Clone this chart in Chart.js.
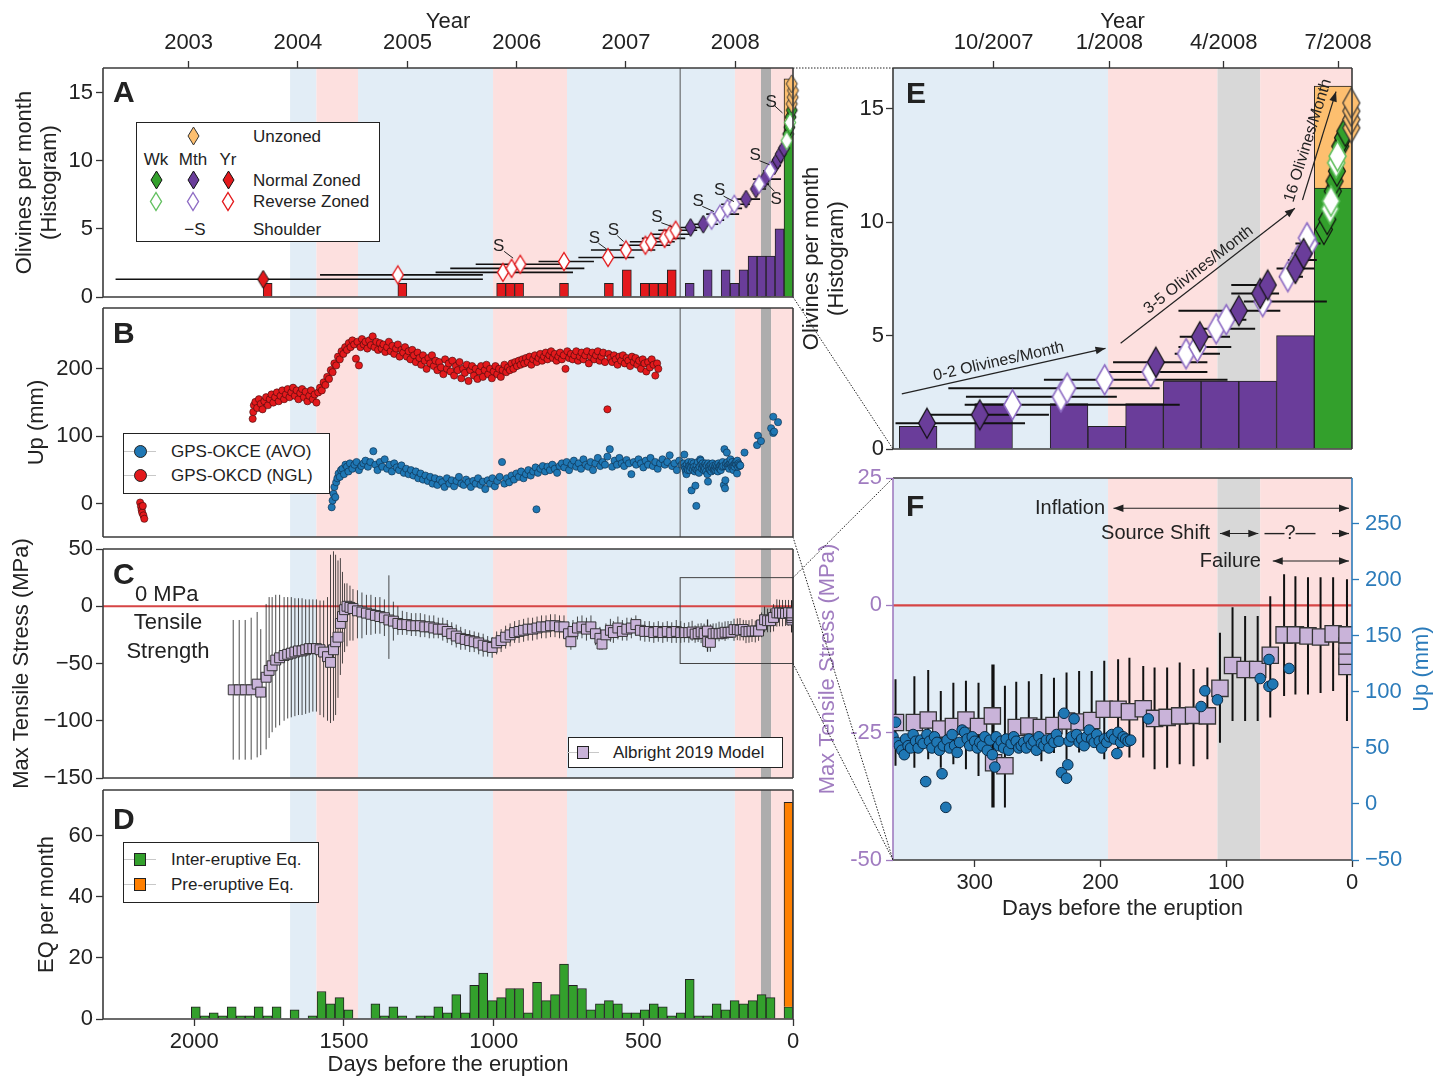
<!DOCTYPE html>
<html>
<head>
<meta charset="utf-8">
<title>Olivines, GPS, stress and seismicity before the eruption</title>
<script src="https://cdn.jsdelivr.net/npm/chart.js@4.4.0/dist/chart.umd.min.js"></script>
<style>
  html, body { margin: 0; padding: 0; background: #fff; }
  #page { position: relative; width: 1437px; height: 1078px; overflow: hidden;
          font-family: 'Liberation Sans', Arial, Helvetica, sans-serif; color: #222; }
  #page canvas { position: absolute; left: 0; top: 0; }
</style>
</head>
<body>
<div id="page">
  <canvas id="chartA" width="1437" height="1078"></canvas>
  <canvas id="chartB" width="1437" height="1078"></canvas>
  <canvas id="chartC" width="1437" height="1078"></canvas>
  <canvas id="chartD" width="1437" height="1078"></canvas>
  <canvas id="chartE" width="1437" height="1078"></canvas>
  <canvas id="chartF" width="1437" height="1078"></canvas>
  <canvas id="links" width="1437" height="1078"></canvas>
</div>
<script>
// ---- data (x = days before the eruption) ----
const yearDays = [2019, 1654, 1288, 923, 558, 193];
const yearLabels = ['2003', '2004', '2005', '2006', '2007', '2008'];
const monthDays = [285, 193, 102, 11];
const monthLabels = ['10/2007', '1/2008', '4/2008', '7/2008'];

// shaded periods [from, to, kind]
const periods = [
  [1680, 1592, 'blue'], [1592, 1453, 'pink'], [1453, 1002, 'blue'], [1002, 755, 'pink'],
  [755, 194, 'blue'], [194, 107, 'pink'], [107, 73, 'grey'], [73, 0, 'pink']
];

// olivine histogram (monthly bins)
const olivYrDays = [1755, 1305, 975, 945, 915, 765, 615, 555, 495, 465, 435, 405];
const olivYrCount = [1, 1, 1, 1, 1, 1, 1, 2, 1, 1, 1, 2];
const olivMthDays = [345, 285, 225, 195, 165, 135, 105, 75, 45];
const olivMthCount = [1, 2, 2, 1, 2, 3, 3, 3, 5];
const olivWkDays = [15];
const olivWkCount = [11.5];
const unzonedRange = [11.5, 16];

// olivine timescales, panel A: [day, y, lo, hi]
const aYrNormal = [[1770, 1.3, 2263, 1036]];
const aYrReverse = [
  [1320, 1.62, 1580, 1036], [969, 1.81, 1194, 735], [940, 2.1, 1145, 697], [911, 2.4, 1060, 760],
  [765, 2.6, 850, 665], [618, 2.9, 717, 530], [558, 3.45, 675, 460], [493, 3.8, 580, 410],
  [474, 4.05, 545, 395], [429, 4.3, 505, 360], [410, 4.6, 475, 345], [392, 4.9, 450, 320]
];
const aMthNormal = [
  [342, 5.10, 377, 300], [300, 5.34, 330, 250], [157, 7.18, 200, 110], [124, 7.92, 137, 90],
  [94, 8.65, 134, 40], [62, 9.63, 80, 40], [51, 10.05, 70, 35], [41, 10.49, 55, 25], [30, 10.93, 40, 20]
];
const aMthReverse = [
  [272, 5.64, 300, 230], [244, 6.08, 290, 180], [219, 6.5, 250, 170], [196, 6.8, 240, 144],
  [113, 8.28, 134, 80], [77, 9.26, 100, 55]
];
const aWkNormal = [[16, 11.96], [12, 12.45], [8, 13.2], [4, 13.7]];
const aWkReverse = [[21, 11.47], [10, 12.8]];
const aUnzoned = [[4, 14.17], [1, 14.65], [0, 15.15], [4, 15.64]];
// shoulder labels: [textDay, textY, lineFromDay, lineFromY, lineToDay, lineToY]
const shoulderLabels = [
  [983, 3.7, 965, 3.35, 935, 2.85], [663, 4.31, 650, 3.95, 622, 3.5], [600, 4.88, 587, 4.5, 566, 4.07],
  [455, 5.83, 440, 5.45, 405, 5.17], [317, 7.0, 303, 6.65, 264, 6.27], [245, 7.8, 232, 7.4, 197, 7.0],
  [126, 10.4, 112, 10.0, 78, 9.7], [56, 7.2, 62, 7.75, 88, 8.35], [73, 14.3, 60, 14.0, 35, 13.5]
];

// olivine timescales, panel E: [day, y, lo, hi]
const eMthNormal = [
  [338, 1.14, 363, 260], [296, 1.51, 336, 241], [156, 3.83, 190, 115], [121, 4.95, 137, 97],
  [90, 6.1, 138, 57], [73, 6.86, 96, 58], [67, 7.23, 96, 61], [45, 7.96, 60, 30], [38.5, 8.62, 48, 32]
];
const eMthReverse = [
  [270, 1.95, 308, 137], [231.5, 2.3, 307, 187], [226.5, 2.68, 321, 153], [196.7, 3.05, 245, 99],
  [160, 3.4, 199, 115], [132, 4.2, 141, 105], [123, 4.5, 138, 96], [108, 5.3, 120, 77],
  [100, 5.7, 107, 84], [71, 6.5, 86, 20], [51, 7.6, 58, 39], [43, 8.33, 51, 28], [34, 9.06, 45, 25],
  [35.8, 9.31, 40, 30]
];
const eWkNormal = [[22.4, 9.68], [19.7, 10.12], [15.3, 11.37], [13.9, 11.81], [12.0, 12.25], [9.3, 13.35], [7.2, 13.72], [5.3, 14.01]];
const eWkReverse = [[17.5, 10.59], [16.7, 10.93], [12.6, 12.62], [11.5, 12.91]];
const eUnzoned = [[0.5, 14.16], [0.5, 14.53], [0.5, 14.9], [0.5, 15.26]];

// GPS vertical displacement (mm): [day, up]
const okcd = [
  [2181,2],[2178,-4],[2176,-9],[2174,-13],[2172,-3],[2170,-17],[2167,-22],
  [1805,126],[1803,136],[1801,146],[1796,151],[1790,142],[1784,155],[1778,148],[1772,140],[1766,152],[1760,158],[1754,146],
  [1748,155],[1742,162],[1736,150],[1730,158],[1724,165],[1718,152],[1712,160],[1706,168],[1700,155],[1694,162],[1688,170],
  [1682,158],[1676,165],[1670,172],[1664,160],[1658,168],[1652,155],[1646,164],[1640,170],[1634,158],[1628,166],[1622,152],
  [1616,160],[1610,168],[1604,155],[1598,162],[1592,150],[1586,165],[1580,172],[1574,168],[1568,180],[1562,176],[1556,188],
  [1550,185],[1544,198],[1538,195],[1532,208],[1526,205],[1520,218],[1514,214],[1508,226],[1502,222],[1496,232],[1490,228],
  [1484,238],[1478,232],[1472,242],[1466,236],[1460,215],[1455,240],[1450,205],[1445,232],[1440,244],[1434,236],[1428,240],
  [1422,230],[1416,242],[1410,235],[1404,248],[1398,232],[1392,240],[1386,228],[1380,238],[1374,230],[1368,236],[1362,225],
  [1356,232],[1350,240],[1344,226],[1338,234],[1332,222],[1326,230],[1320,236],[1314,218],[1308,228],[1302,224],[1296,232],
  [1290,218],[1284,226],[1278,214],[1272,228],[1266,220],[1260,210],[1254,224],[1248,216],[1242,206],[1236,220],[1230,212],
  [1224,200],[1218,216],[1212,208],[1206,220],[1200,204],[1194,212],[1188,198],[1182,210],[1176,202],[1168,192],[1162,214],
  [1156,200],[1150,208],[1144,196],[1138,212],[1132,190],[1126,204],[1120,198],[1114,210],[1108,186],[1102,200],[1096,194],
  [1090,206],[1084,182],[1078,198],[1072,204],[1066,190],[1060,200],[1054,185],[1048,196],[1042,204],[1036,188],[1030,198],
  [1024,206],[1018,192],[1012,200],[1006,186],[1000,196],[994,204],[988,192],[982,200],[976,188],[970,198],[964,206],
  [958,195],[952,202],[946,198],[940,208],[934,200],[928,210],[922,204],[916,212],[910,206],[904,214],[898,208],[892,216],
  [886,210],[880,218],[874,206],[868,214],[862,220],[856,210],[850,216],[844,222],[838,212],[832,218],[826,224],[820,214],
  [814,220],[808,226],[802,216],[796,222],[790,212],[784,218],[778,224],[772,214],[766,220],[760,200],[754,226],[748,216],
  [742,222],[736,214],[730,220],[724,226],[718,212],[712,218],[706,224],[700,214],[694,220],[688,226],[682,208],[676,218],
  [670,224],[664,214],[658,220],[652,226],[646,212],[640,218],[634,224],[628,210],[620,140],[616,222],[610,216],[604,210],
  [598,220],[592,214],[586,206],[580,218],[574,212],[568,220],[562,208],[556,216],[550,212],[544,204],[538,218],[532,210],
  [526,216],[520,206],[514,212],[508,200],[502,214],[496,208],[490,196],[484,210],[478,202],[472,214],[466,206],[460,190],
  [454,208],[450,200]
];
const okce = [
  [1541,-5],[1538,5],[1535,15],[1532,25],[1529,10],[1526,32],[1522,38],[1518,45],[1514,40],[1510,50],[1505,52],[1500,44],
  [1495,58],[1490,55],[1485,48],[1480,60],[1472,52],[1465,58],[1458,62],[1450,50],[1442,56],[1435,60],[1428,64],[1420,55],
  [1412,62],[1402,78],[1395,58],[1388,50],[1380,62],[1372,55],[1364,66],[1356,52],[1348,58],[1340,48],[1332,60],[1324,54],
  [1316,50],[1308,57],[1300,46],[1292,52],[1284,44],[1276,50],[1268,42],[1260,48],[1252,38],[1244,45],[1236,36],[1228,42],
  [1220,34],[1212,40],[1204,30],[1196,38],[1188,28],[1180,36],[1172,32],[1164,25],[1156,38],[1148,30],[1140,35],[1132,26],
  [1124,34],[1116,40],[1108,30],[1100,28],[1092,36],[1084,32],[1076,25],[1068,34],[1060,30],[1052,38],[1044,28],[1036,33],
  [1028,22],[1020,35],[1012,30],[1004,38],[996,26],[988,34],[980,40],[972,62],[964,30],[956,38],[948,32],[940,42],
  [932,36],[924,45],[916,40],[908,48],[900,38],[892,44],[884,50],[876,42],[868,48],[860,54],[857,-8],[852,46],
  [844,52],[836,56],[828,48],[820,55],[812,50],[804,58],[796,52],[788,46],[780,56],[772,60],[764,54],[756,62],
  [748,50],[740,58],[732,64],[724,55],[716,60],[708,52],[700,66],[692,58],[684,55],[676,62],[668,50],[660,60],
  [652,68],[644,56],[636,62],[628,58],[620,70],[612,81],[604,55],[596,64],[588,58],[580,68],[572,60],[564,56],
  [556,65],[548,60],[540,44],[532,62],[524,58],[516,66],[508,60],[500,54],[492,64],[484,58],[476,68],[468,56],
  [460,62],[452,52],[444,60],[436,66],[428,58],[420,62],[412,72],[404,56],[396,60],[388,50],[380,64],[372,58],
  [365,60],[363,73],[362,55],[360,52],[358,48],[356,44],[355,58],[353,52],[351,50],[349,62],[347,56],[345,50],
  [343,57],[341,54],[339,20],[338,62],[336,56],[334,50],[332,60],[330,55],[328,48],[326,27],[325,52],[323,-3],
  [322,57],[320,50],[318,62],[316,52],[314,46],[312,55],[310,66],[308,64],[306,58],[304,52],[302,60],[300,56],
  [298,50],[296,55],[294,52],[292,60],[290,48],[288,57],[286,44],[284,33],[283,60],[281,52],[279,56],[277,50],
  [275,58],[273,48],[271,54],[269,60],[267,56],[265,50],[263,52],[261,55],[259,50],[257,58],[255,53],[253,56],
  [251,48],[249,60],[247,54],[245,52],[243,57],[241,50],[239,58],[237,55],[235,62],[233,56],[231,28],[229,81],
  [227,23],[226,35],[225,56],[223,60],[221,76],[219,62],[217,55],[215,58],[213,52],[211,60],[209,66],[207,58],
  [205,55],[203,62],[201,56],[199,50],[197,58],[195,55],[193,60],[191,62],[189,58],[187,45],[186,64],[184,55],
  [182,60],[180,58],[178,56],[176,57],
  [162,76],[120,87],[117,101],[107,93],[73,112],[66,129],[66,105],[63,107],[50,121]
];

// Albright 2019 model, max tensile stress (MPa): [day, stress, lo, hi]
const albright = [
  [1870,-73,-134,-12],[1850,-73,-134,-12],[1830,-73,-134,-12],[1810,-73,-134,-10],[1790,-68,-132,-5],[1778,-75,-130,-20],
  [1760,-62,-125,2],[1750,-56,-115,8],[1740,-52,-110,8],[1728,-47,-106,10],[1715,-45,-104,10],[1700,-43,-100,8],
  [1688,-42,-98,8],[1676,-41,-97,8],[1664,-40,-96,7],[1652,-39,-95,7],[1640,-39,-95,7],[1628,-38,-94,6],
  [1616,-37,-93,6],[1604,-37,-92,6],[1592,-37,-92,6],[1580,-38,-95,5],[1568,-40,-97,5],[1555,-44,-100,8],
  [1545,-49,-102,45],[1535,-38,-100,48],[1528,-31,-95,45],[1520,-27,-80,40],[1512,-15,-60,42],[1505,-9,-50,30],
  [1498,-3,-40,20],[1490,0,-35,20],[1480,-1,-30,18],[1470,-2,-30,15],[1455,-4,-28,14],[1440,-5,-28,12],
  [1425,-6,-25,10],[1410,-7,-25,10],[1395,-8,-24,8],[1380,-9,-24,8],[1365,-10,-26,6],[1350,-12,-46,27],
  [1335,-13,-30,4],[1320,-15,-25,0],[1305,-16,-25,-4],[1290,-16,-25,-5],[1275,-17,-26,-6],[1260,-17,-26,-6],
  [1245,-17,-27,-6],[1230,-18,-27,-7],[1215,-18,-28,-8],[1200,-19,-28,-8],[1185,-20,-28,-10],[1170,-20,-30,-10],
  [1155,-22,-32,-12],[1140,-24,-34,-14],[1125,-26,-36,-16],[1110,-28,-38,-18],[1095,-29,-38,-20],[1080,-30,-40,-21],
  [1065,-31,-40,-22],[1050,-32,-42,-23],[1035,-34,-44,-24],[1020,-35,-44,-26],[1005,-36,-45,-27],[990,-32,-42,-22],
  [975,-30,-40,-20],[960,-27,-37,-17],[945,-25,-35,-15],[930,-23,-32,-13],[915,-22,-32,-12],[900,-21,-31,-11],
  [885,-20,-30,-10],[870,-20,-30,-10],[855,-19,-29,-9],[840,-18,-28,-8],[825,-18,-28,-8],[810,-17,-27,-7],
  [795,-17,-27,-7],[780,-18,-28,-8],[765,-18,-28,-8],[750,-24,-34,-14],[742,-31,-38,-20],[735,-22,-32,-12],
  [720,-19,-29,-9],[705,-18,-28,-8],[690,-20,-30,-10],[675,-18,-28,-8],[660,-24,-34,-14],[645,-28,-38,-18],
  [638,-33,-38,-26],[625,-25,-35,-15],[610,-21,-31,-11],[600,-23,-32,-13],[585,-19,-29,-9],[570,-22,-30,-12],
  [555,-20,-30,-10],[540,-19,-28,-10],[525,-16,-26,-8],[510,-21,-30,-12],[495,-22,-31,-13],[480,-22,-31,-13],
  [465,-23,-32,-14],[450,-22,-31,-13],[435,-23,-32,-14],[420,-22,-31,-13],[405,-23,-32,-14],[390,-22,-32,-12],
  [375,-23,-32,-13],
  [363,-23.0,-31.5,-14.5],[348,-23.0,-31.9,-13.9],[337,-22.5,-30.2,-12.7],[327,-24.3,-31.9,-16.8],[317,-23.8,-31.2,-15.2],
  [307,-22.5,-32.2,-14.8],[297,-23.8,-33.5,-15.2],[286,-21.7,-39.7,-11.6],[285,-30.9,-39.7,-11.6],[276,-31.5,-39.7,-15.8],
  [267,-24.0,-28.3,-15.0],[257,-23.7,-28.0,-14.9],[247,-24.0,-30.6,-13.5],[237,-23.6,-29.0,-14.2],[227,-22.7,-30.2,-13.2],
  [217,-22.9,-28.9,-12.9],[207,-22.6,-26.6,-12.9],[197,-20.4,-30.2,-10.9],[186,-20.4,-29.6,-10.6],[177,-20.9,-29.9,-10.3],
  [166,-20.3,-29.9,-11.9],[157,-22.2,-32.2,-12.2],[147,-22.0,-31.9,-12.2],[137,-21.7,-31.2,-11.2],[126,-21.6,-31.6,-12.5],
  [115,-21.7,-30.2,-12.2],[105,-16.3,-27.0,-5.4],[95,-11.8,-22.7,-0.4],[85,-12.6,-22.7,-2.1],[75,-12.6,-22.7,-2.1],
  [65,-9.8,-22.0,1.8],[54,-5.8,-17.8,6.1],[45,-5.8,-17.5,5.7],[35,-6.0,-17.5,5.5],[25,-6.2,-17.2,5.5],[15,-5.6,-16.8,5.5],
  [4,-12.0,-22.7,5.1],[4,-10.0,-22.7,5.1],[4,-8.0,-22.7,5.1],[4,-5.8,-22.7,5.1]
];

// earthquakes per month (monthly bins)
const eqDays = [1995,1965,1935,1905,1875,1845,1815,1785,1755,1725,1695,1665,1635,1605,1575,1545,1515,1485,1455,1425,
  1395,1365,1335,1305,1275,1245,1215,1185,1155,1125,1095,1065,1035,1005,975,945,915,885,855,825,795,765,735,705,675,645,
  615,585,555,525,495,465,435,405,375,345,315,285,255,225,195,165,135,105,75,45,15];
const eqInter = [4,1,2,1,4,1,1,4,1,4, 0,3,0,1,9,5,7,3,0,0, 5,1,4,1,0,1,1,4,2,8, 2,11,15,6,7,10,10,2,12,6,
  8,18,11,10,3,5,6,5,2,2, 3,5,4,1,2,13,1,1,5,3, 6,5,6,8,7,0,4];
const eqPreRange = [4, 71];

// ---- styling ----
const FONT = "'Liberation Sans', Arial, Helvetica, sans-serif";
Chart.defaults.font.family = FONT;
Chart.defaults.color = '#222';
Chart.defaults.animation = false;
Chart.defaults.events = [];
Chart.defaults.plugins.legend.display = false;
Chart.defaults.plugins.tooltip.enabled = false;

const RED = '#e3191c', PUR = '#6a3d9a', PUR_L = '#8e6cc4', GRN = '#33a02c', GRN_L = '#63c060', ORA = '#fdbf6f';
const EQ_ORA = '#ff7f00', LAV = '#c9b3d9', BLUE = '#2b7bba', PURTXT = '#a07cc0';
const bandsAD = {blue: '#e2edf6', pink: '#fde0df', grey: '#adadad'};
const bandsEF = {blue: '#e2edf6', pink: '#fde0df', grey: '#d8d8d8'};
const TICK_FONT = {size: 22};
const TITLE_FONT = {size: 22, lineHeight: 1.15};

function diamondImg(w, h, fill, stroke, lw) {
  const c = document.createElement('canvas');
  c.width = Math.ceil(w + lw * 2 + 2); c.height = Math.ceil(h + lw * 2 + 2);
  const g = c.getContext('2d');
  const cx = c.width / 2, cy = c.height / 2;
  g.beginPath();
  g.moveTo(cx, cy - h / 2); g.lineTo(cx + w / 2, cy); g.lineTo(cx, cy + h / 2); g.lineTo(cx - w / 2, cy);
  g.closePath();
  g.fillStyle = fill; g.fill();
  g.lineWidth = lw; g.strokeStyle = stroke; g.stroke();
  return c;
}
const dA = {
  yrN: diamondImg(11, 18, RED, '#111', 1), yrR: diamondImg(11, 18, '#fff', RED, 1.4),
  mthN: diamondImg(11, 18, PUR, '#111', 1), mthR: diamondImg(11, 18, '#fff', PUR_L, 1.4),
  wkN: diamondImg(11, 18, GRN, '#111', 1), wkR: diamondImg(11, 18, '#fff', GRN_L, 1.4),
  un: diamondImg(11, 18, ORA, '#333', 1)
};
const dE = {
  mthN: diamondImg(17, 30, PUR, '#111', 1.2), mthR: diamondImg(17, 30, '#fff', PUR_L, 1.6),
  wkN: diamondImg(17, 30, GRN, '#111', 1.2), wkR: diamondImg(17, 30, '#fff', GRN_L, 1.6),
  un: diamondImg(17, 30, ORA, '#333', 1.2)
};

// ---- helpers ----
function tickGrid(color) {
  return {display: true, offset: false, drawOnChartArea: false, drawTicks: true, tickLength: 7, tickWidth: 1.3,
          tickColor: color || '#333'};
}
const minus = v => (v < 0 ? '\u2212' + (-v) : String(v));
function yAxis(o) {
  return {
    type: 'linear', position: o.pos || 'left', min: o.min, max: o.max,
    afterFit: s => { s.width = o.w; },
    afterBuildTicks: s => { s.ticks = o.ticks.map(v => ({value: v})); },
    grid: tickGrid(o.color), border: {display: false},
    ticks: {font: TICK_FONT, color: o.color || '#222', padding: o.pad, callback: o.fmt || (v => String(v))},
    title: {display: !!o.title, text: o.title || '', font: TITLE_FONT, color: o.color || '#222',
            padding: {top: o.tpad || 0, bottom: 0}}
  };
}
function xAxis(o) {
  const ax = {type: 'linear', position: 'bottom', min: 0, max: o.max, reverse: true, offset: false,
              display: !!o.ticks, grid: tickGrid(), border: {display: false}};
  if (o.ticks) {
    ax.afterFit = s => { s.height = o.h; };
    ax.afterBuildTicks = s => { s.ticks = o.ticks.map(v => ({value: v})); };
    ax.ticks = {font: TICK_FONT, padding: 3, maxRotation: 0, autoSkip: false, callback: v => String(v)};
    ax.title = {display: true, text: 'Days before the eruption', font: TITLE_FONT, padding: {top: 0, bottom: 0}};
  }
  return ax;
}
function topAxis(max, days, labels) {
  return {
    type: 'linear', position: 'top', min: 0, max: max, reverse: true, offset: false,
    afterFit: s => { s.height = 68; },
    afterBuildTicks: s => { s.ticks = days.map(v => ({value: v})); },
    grid: tickGrid(), border: {display: false},
    ticks: {font: TICK_FONT, padding: 5, maxRotation: 0, autoSkip: false, callback: v => labels[days.indexOf(v)]},
    title: {display: true, text: 'Year', font: TITLE_FONT, padding: {top: 9, bottom: 0}}
  };
}
function barDs(days, vals, color, order) {
  return {type: 'bar', data: days.map((d, i) => ({x: d, y: vals[i]})), backgroundColor: color,
          borderColor: '#222', borderWidth: 1, barPercentage: 1, categoryPercentage: 1, grouped: false, order: order};
}
function ptsDs(rows, img, order) {
  return {type: 'scatter', data: rows.map(r => ({x: r[0], y: r[1]})), pointStyle: img, pointRadius: 6,
          clip: false, order: order};
}
function hBarDs(rows, color, width, order) {
  const d = [];
  rows.forEach(r => { if (r.length > 2) d.push({x: r[2], y: r[1]}, {x: r[3], y: r[1]}, {x: r[3], y: null}); });
  return {type: 'line', data: d, borderColor: color, borderWidth: width, pointRadius: 0, spanGaps: false, order: order};
}
function vBarDs(rows, color, width, order) {
  const d = [];
  rows.forEach(r => { d.push({x: r[0], y: r[2]}, {x: r[0], y: r[3]}, {x: r[0], y: null}); });
  return {type: 'line', data: d, borderColor: color, borderWidth: width, pointRadius: 0, spanGaps: false, order: order};
}
function zeroLine(max, order) {
  return {type: 'line', data: [{x: max, y: 0}, {x: 0, y: 0}], borderColor: '#d64545', borderWidth: 2.2,
          pointRadius: 0, order: order};
}

// panel decorations: shaded periods, notes and frame
const panelCfg = {};
function resolve(chart, p) {
  const ca = chart.chartArea;
  const x = p.x !== undefined ? chart.scales[p.xs || 'x'].getPixelForValue(p.x) : ca.left + (p.cx || 0) * (ca.right - ca.left);
  const y = p.y !== undefined ? chart.scales[p.ys || 'y'].getPixelForValue(p.y) : ca.top + (p.cy || 0) * (ca.bottom - ca.top);
  return [x + (p.dx || 0), y + (p.dy || 0)];
}
function arrowHead(ctx, x1, y1, x2, y2) {
  const a = Math.atan2(y2 - y1, x2 - x1), len = 10, half = 3.8;
  ctx.beginPath();
  ctx.moveTo(x2, y2);
  ctx.lineTo(x2 - len * Math.cos(a) + half * Math.sin(a), y2 - len * Math.sin(a) - half * Math.cos(a));
  ctx.lineTo(x2 - len * Math.cos(a) - half * Math.sin(a), y2 - len * Math.sin(a) + half * Math.cos(a));
  ctx.closePath(); ctx.fill();
}
const panelPlugin = {
  id: 'panel',
  beforeDatasetsDraw(chart) {
    const o = panelCfg[chart.canvas.id]; if (!o) return;
    const ca = chart.chartArea, ctx = chart.ctx, xs = chart.scales.x;
    ctx.save();
    ctx.beginPath(); ctx.rect(ca.left, ca.top, ca.right - ca.left, ca.bottom - ca.top); ctx.clip();
    periods.forEach(b => {
      const x1 = xs.getPixelForValue(b[0]), x2 = xs.getPixelForValue(b[1]);
      ctx.fillStyle = o.colors[b[2]];
      ctx.fillRect(Math.min(x1, x2), ca.top, Math.abs(x2 - x1), ca.bottom - ca.top);
    });
    ctx.restore();
  },
  afterDatasetsDraw(chart) {
    const o = panelCfg[chart.canvas.id]; if (!o) return;
    const ctx = chart.ctx, ca = chart.chartArea;
    ctx.save();
    (o.items || []).forEach(it => {
      ctx.strokeStyle = ctx.fillStyle = it.color || '#222';
      ctx.lineWidth = it.width || 1;
      if (it.t === 'line') {
        const [x1, y1] = resolve(chart, it.a), [x2, y2] = resolve(chart, it.b);
        ctx.beginPath(); ctx.moveTo(x1, y1); ctx.lineTo(x2, y2); ctx.stroke();
        if (it.head === 'end' || it.head === 'both') arrowHead(ctx, x1, y1, x2, y2);
        if (it.head === 'both') arrowHead(ctx, x2, y2, x1, y1);
      } else if (it.t === 'rect') {
        const [x1, y1] = resolve(chart, it.a), [x2, y2] = resolve(chart, it.b);
        ctx.strokeRect(Math.min(x1, x2), Math.min(y1, y2), Math.abs(x2 - x1), Math.abs(y2 - y1));
      } else if (it.t === 'text') {
        const [x, y] = resolve(chart, it.at);
        let ang = (it.rot || 0) * Math.PI / 180;
        if (it.along) {
          const [ax, ay] = resolve(chart, it.along[0]), [bx, by] = resolve(chart, it.along[1]);
          ang = Math.atan2(by - ay, bx - ax);
        }
        ctx.save(); ctx.translate(x, y); ctx.rotate(ang);
        ctx.font = it.font || '17px ' + FONT;
        ctx.textAlign = it.align || 'center'; ctx.textBaseline = 'middle';
        ctx.fillText(it.text, 0, 0);
        ctx.restore();
      }
    });
    const f = o.frame || {};
    const side = (c, x1, y1, x2, y2) => {
      ctx.strokeStyle = c; ctx.lineWidth = 1.6;
      ctx.beginPath(); ctx.moveTo(x1, y1); ctx.lineTo(x2, y2); ctx.stroke();
    };
    side(f.top || '#3a3a3a', ca.left, ca.top, ca.right, ca.top);
    side(f.bottom || '#3a3a3a', ca.left, ca.bottom, ca.right, ca.bottom);
    side(f.left || '#3a3a3a', ca.left, ca.top, ca.left, ca.bottom);
    side(f.right || '#3a3a3a', ca.right, ca.top, ca.right, ca.bottom);
    ctx.restore();
  }
};

const ADMAX = 2305, EFMAX = 365, BOXDAY = 377;
const vline = {t: 'line', a: {x: BOXDAY, cy: 0}, b: {x: BOXDAY, cy: 1}, color: '#555', width: 1};

// ---- A: olivine histogram and timescales ----
const sItems = [];
shoulderLabels.forEach(s => {
  sItems.push({t: 'text', at: {x: s[0], y: s[1]}, text: 'S', font: '17px ' + FONT});
  sItems.push({t: 'line', a: {x: s[2], y: s[3]}, b: {x: s[4], y: s[5]}, width: 1});
});
panelCfg.chartA = {colors: bandsAD, items: [vline].concat(sItems)};
const charts = {};
charts.A = new Chart(document.getElementById('chartA'), {
  type: 'bar',
  data: {datasets: [
    barDs(olivYrDays, olivYrCount, RED, 9),
    barDs(olivMthDays, olivMthCount, PUR, 9),
    barDs(olivWkDays, olivWkCount, GRN, 9),
    {type: 'bar', data: [{x: olivWkDays[0], y: unzonedRange}], backgroundColor: ORA, borderColor: '#222', borderWidth: 1,
     barPercentage: 1, categoryPercentage: 1, grouped: false, order: 9},
    hBarDs(aYrNormal.concat(aYrReverse, aMthNormal, aMthReverse), '#111', 1.6, 8),
    ptsDs(aYrReverse, dA.yrR, 5), ptsDs(aYrNormal, dA.yrN, 4),
    ptsDs(aMthReverse, dA.mthR, 3), ptsDs(aMthNormal, dA.mthN, 3),
    ptsDs(aWkReverse, dA.wkR, 2), ptsDs(aWkNormal, dA.wkN, 2), ptsDs(aUnzoned, dA.un, 1)
  ]},
  options: {
    responsive: false,
    layout: {padding: {left: 0, top: 0, right: 1437 - 793, bottom: 1078 - 297}},
    scales: {
      x: xAxis({max: ADMAX}),
      xTop: topAxis(ADMAX, yearDays, yearLabels),
      y: yAxis({min: 0, max: 16.8, ticks: [0, 5, 10, 15], w: 103, pad: 3,
                title: ['Olivines per month', '(Histogram)'], tpad: 12.4})
    }
  },
  plugins: [panelPlugin]
});

// ---- B: GPS ----
panelCfg.chartB = {colors: bandsAD, items: [vline]};
charts.B = new Chart(document.getElementById('chartB'), {
  type: 'scatter',
  data: {datasets: [
    {data: okcd.map(p => ({x: p[0], y: p[1]})), backgroundColor: RED, borderColor: '#3a0a0a', borderWidth: 0.6, pointRadius: 3.6, order: 2},
    {data: okce.map(p => ({x: p[0], y: p[1]})), backgroundColor: '#1f77b4', borderColor: '#0b2a45', borderWidth: 0.6, pointRadius: 3.6, order: 1}
  ]},
  options: {
    responsive: false,
    layout: {padding: {left: 0, top: 308, right: 1437 - 793, bottom: 1078 - 537}},
    scales: {
      x: xAxis({max: ADMAX}),
      y: yAxis({min: -49, max: 290, ticks: [0, 100, 200], w: 103, pad: 3, title: 'Up (mm)', tpad: 24.4})
    }
  },
  plugins: [panelPlugin]
});

// ---- C: max tensile stress ----
panelCfg.chartC = {colors: bandsAD, items: [{t: 'rect', a: {x: BOXDAY, y: 25}, b: {x: 0, y: -50}, color: '#444', width: 1}]};
charts.C = new Chart(document.getElementById('chartC'), {
  type: 'scatter',
  data: {datasets: [
    zeroLine(ADMAX, 4),
    vBarDs(albright, 'rgba(30,30,30,0.8)', 1, 3),
    {data: albright.map(r => ({x: r[0], y: r[1]})), pointStyle: 'rect', pointRadius: 7, backgroundColor: LAV,
     borderColor: '#333', borderWidth: 1, order: 1}
  ]},
  options: {
    responsive: false,
    layout: {padding: {left: 0, top: 549, right: 1437 - 793, bottom: 1078 - 778}},
    scales: {
      x: xAxis({max: ADMAX}),
      y: yAxis({min: -150, max: 50, ticks: [-150, -100, -50, 0, 50], w: 103, pad: 3, fmt: minus,
                title: 'Max Tensile Stress (MPa)', tpad: 9.4})
    }
  },
  plugins: [panelPlugin]
});

// ---- D: earthquakes ----
panelCfg.chartD = {colors: bandsAD, items: []};
charts.D = new Chart(document.getElementById('chartD'), {
  type: 'bar',
  data: {datasets: [
    barDs(eqDays, eqInter, GRN, 2),
    {type: 'bar', data: [{x: 15, y: eqPreRange}], backgroundColor: EQ_ORA, borderColor: '#222', borderWidth: 1,
     barPercentage: 1, categoryPercentage: 1, grouped: false, order: 1}
  ]},
  options: {
    responsive: false,
    layout: {padding: {left: 0, top: 790, right: 1437 - 793, bottom: 0}},
    scales: {
      x: xAxis({max: ADMAX, ticks: [0, 500, 1000, 1500, 2000], h: 59}),
      y: yAxis({min: 0, max: 75, ticks: [0, 20, 40, 60], w: 103, pad: 3, title: 'EQ per month', tpad: 34})
    }
  },
  plugins: [panelPlugin]
});

// ---- E: last year of olivines ----
const a1 = [{x: 358, y: 2.43}, {x: 196, y: 4.44}];
const a2 = [{x: 184, y: 4.66}, {x: 45.4, y: 10.62}];
const a3 = [{x: 39.4, y: 10.98}, {x: 12.7, y: 15.76}];
panelCfg.chartE = {colors: bandsEF, items: [
  {t: 'line', a: a1[0], b: a1[1], head: 'end', width: 1.2},
  {t: 'text', at: {x: 281, y: 3.85}, text: '0-2 Olivines/Month', along: a1, font: '16px ' + FONT},
  {t: 'line', a: a2[0], b: a2[1], head: 'end', width: 1.2},
  {t: 'text', at: {x: 122, y: 7.9}, text: '3-5 Olivines/Month', along: a2, font: '16px ' + FONT},
  {t: 'line', a: a3[0], b: a3[1], head: 'end', width: 1.2},
  {t: 'text', at: {x: 35, y: 13.6}, text: '16 Olivines/Month', along: a3, font: '16px ' + FONT}
]};
charts.E = new Chart(document.getElementById('chartE'), {
  type: 'bar',
  data: {datasets: [
    barDs(olivMthDays, olivMthCount, PUR, 9),
    barDs(olivWkDays, olivWkCount, GRN, 9),
    {type: 'bar', data: [{x: olivWkDays[0], y: unzonedRange}], backgroundColor: ORA, borderColor: '#222', borderWidth: 1,
     barPercentage: 1, categoryPercentage: 1, grouped: false, order: 9},
    hBarDs(eMthNormal.concat(eMthReverse), '#111', 2, 8),
    ptsDs(eMthReverse, dE.mthR, 4), ptsDs(eMthNormal, dE.mthN, 3),
    ptsDs(eWkReverse, dE.wkR, 2), ptsDs(eWkNormal, dE.wkN, 2), ptsDs(eUnzoned, dE.un, 1)
  ]},
  options: {
    responsive: false,
    layout: {padding: {left: 793, top: 0, right: 1437 - 1352, bottom: 1078 - 449}},
    scales: {
      x: xAxis({max: EFMAX}),
      xTop: topAxis(EFMAX, monthDays, monthLabels),
      y: yAxis({min: 0, max: 16.8, ticks: [0, 5, 10, 15], w: 100, pad: 2,
                title: ['Olivines per month', '(Histogram)'], tpad: 6.4})
    }
  },
  plugins: [panelPlugin]
});

// ---- F: last year of stress and GPS ----
const TXT = '20px ' + FONT;
panelCfg.chartF = {colors: bandsEF, frame: {left: PURTXT, right: BLUE}, items: [
  {t: 'text', at: {x: 196.4, y: 19.06}, text: 'Inflation', align: 'right', font: TXT},
  {t: 'line', a: {x: 189.7, y: 19.06}, b: {x: 2.4, y: 19.06}, head: 'both', width: 1.2},
  {t: 'text', at: {x: 112.9, y: 14.1}, text: 'Source Shift', align: 'right', font: TXT},
  {t: 'line', a: {x: 105, y: 14.1}, b: {x: 74.5, y: 14.1}, head: 'both', width: 1.2},
  {t: 'text', at: {x: 49.3, y: 14.1}, text: '\u2014?\u2014', font: TXT},
  {t: 'line', a: {x: 15.9, y: 14.1}, b: {x: 2.4, y: 14.1}, head: 'end', width: 1.2},
  {t: 'text', at: {x: 72.4, y: 8.7}, text: 'Failure', align: 'right', font: TXT},
  {t: 'line', a: {x: 63, y: 8.7}, b: {x: 2.4, y: 8.7}, head: 'both', width: 1.2},
  {t: 'text', at: {cx: 1, dx: 70, cy: 0.5}, text: 'Up (mm)', rot: -90, color: BLUE, font: '22px ' + FONT}
]};
const albLastYear = albright.filter(r => r[0] <= EFMAX + 1);
charts.F = new Chart(document.getElementById('chartF'), {
  type: 'scatter',
  data: {datasets: [
    zeroLine(EFMAX, 5),
    vBarDs(albLastYear, '#111', 2, 4),
    {data: albLastYear.map(r => ({x: r[0], y: r[1]})), pointStyle: 'rect', pointRadius: 11.5, backgroundColor: LAV,
     borderColor: '#333', borderWidth: 1.3, order: 3},
    {data: okce.filter(p => p[0] <= EFMAX + 1).map(p => ({x: p[0], y: p[1]})), yAxisID: 'y2',
     backgroundColor: '#1f77b4', borderColor: '#0b2a45', borderWidth: 1, pointRadius: 5.3, order: 1}
  ]},
  options: {
    responsive: false,
    layout: {padding: {left: 813, top: 478, right: 0, bottom: 1078 - 860 - 62}},
    scales: {
      x: xAxis({max: EFMAX, ticks: [0, 100, 200, 300], h: 62}),
      y: yAxis({min: -50, max: 25, ticks: [-50, -25, 0, 25], w: 80, pad: 4, color: PURTXT,
                title: 'Max Tensile Stress (MPa)', tpad: 2.4}),
      y2: yAxis({pos: 'right', min: -50, max: 291, ticks: [-50, 0, 50, 100, 150, 200, 250], w: 85, pad: 6,
                 color: BLUE, fmt: minus})
    }
  },
  plugins: [panelPlugin]
});

// ---- dotted links between the panels ----
(function drawLinks() {
  const g = document.getElementById('links').getContext('2d');
  const A = charts.A.chartArea, B = charts.B.chartArea, E = charts.E.chartArea, F = charts.F.chartArea;
  const cx = charts.C.scales.x, cy = charts.C.scales.y;
  const bx = cx.getPixelForValue(0), bt = cy.getPixelForValue(25), bb = cy.getPixelForValue(-50);
  g.setLineDash([1.5, 1.5]); g.lineWidth = 1; g.strokeStyle = '#222';
  [[A.right, A.top, E.left, E.top], [A.right, A.bottom, E.left, E.bottom], [B.right, B.bottom, F.left, F.bottom],
   [bx, bt, F.left, F.top], [bx, bb, F.left, F.bottom]].forEach(l => {
    g.beginPath(); g.moveTo(l[0], l[1]); g.lineTo(l[2], l[3]); g.stroke();
  });
})();

// ---- legends and labels ----
const page = document.getElementById('page');
function el(tag, css, text) {
  const d = document.createElement(tag);
  Object.assign(d.style, {position: 'absolute'}, css);
  if (text) d.textContent = text;
  page.appendChild(d);
  return d;
}
function label(text, x, y, size, extra) {
  return el('div', Object.assign({left: x + 'px', top: y + 'px', fontSize: size + 'px', lineHeight: '1',
    whiteSpace: 'nowrap', transform: 'translateY(-50%)'}, extra || {}), text);
}
function clabel(text, x, y, size, extra) {
  return label(text, x, y, size, Object.assign({transform: 'translate(-50%,-50%)'}, extra || {}));
}
function box(l, t, w, h) {
  el('div', {left: l + 'px', top: t + 'px', width: w + 'px', height: h + 'px', border: '1.3px solid #222',
             boxSizing: 'border-box', background: '#fff'});
}
function icon(cv, x, y) {
  const im = el('img', {left: (x - cv.width / 2) + 'px', top: (y - cv.height / 2) + 'px'});
  im.src = cv.toDataURL();
}
function dot(x, y, color) {
  el('div', {left: (x - 16) + 'px', top: (y - 0.5) + 'px', width: '32px', height: '1px', background: '#c8c8c8'});
  el('div', {left: (x - 6.5) + 'px', top: (y - 6.5) + 'px', width: '13px', height: '13px', borderRadius: '50%',
             background: color, border: '1px solid #222', boxSizing: 'border-box'});
}
function sq(x, y, color) {
  el('div', {left: (x - 16) + 'px', top: (y - 0.5) + 'px', width: '32px', height: '1px', background: '#c8c8c8'});
  el('div', {left: (x - 6) + 'px', top: (y - 6.5) + 'px', width: '12px', height: '13px', background: color,
             border: '1px solid #222', boxSizing: 'border-box'});
}

// panel letters
[['A', 113, 92], ['B', 113, 333], ['C', 113, 574], ['D', 113, 819], ['E', 906, 93], ['F', 906, 506]].forEach(l => {
  label(l[0], l[1], l[2], 30, {fontWeight: 'bold'});
});

// A legend
box(136, 122, 244, 120);
icon(dA.un, 193, 136); label('Unzoned', 253, 136, 17);
clabel('Wk', 156, 159, 17); clabel('Mth', 193, 159, 17); clabel('Yr', 228, 159, 17);
icon(dA.wkN, 156, 180); icon(dA.mthN, 193, 180); icon(dA.yrN, 228, 180); label('Normal Zoned', 253, 180, 17);
icon(dA.wkR, 156, 201); icon(dA.mthR, 193, 201); icon(dA.yrR, 228, 201); label('Reverse Zoned', 253, 201, 17);
clabel('\u2212S', 195, 229, 17); label('Shoulder', 253, 229, 17);

// B legend
box(123, 433, 207, 61);
dot(140, 451, '#1f77b4'); label('GPS-OKCE (AVO)', 171, 451, 17);
dot(140, 475, RED); label('GPS-OKCD (NGL)', 171, 475, 17);

// C legend and tensile strength note
box(568, 737, 215, 31);
sq(583, 752, LAV); label('Albright 2019 Model', 613, 752, 17);
label('0 MPa', 135, 594, 22);
clabel('Tensile', 168, 622, 22);
clabel('Strength', 168, 651, 22);

// D legend
box(123, 842, 196, 61);
sq(140, 859, GRN); label('Inter-eruptive Eq.', 171, 859, 17);
sq(140, 884, EQ_ORA); label('Pre-eruptive Eq.', 171, 884, 17);
</script>
</body>
</html>
